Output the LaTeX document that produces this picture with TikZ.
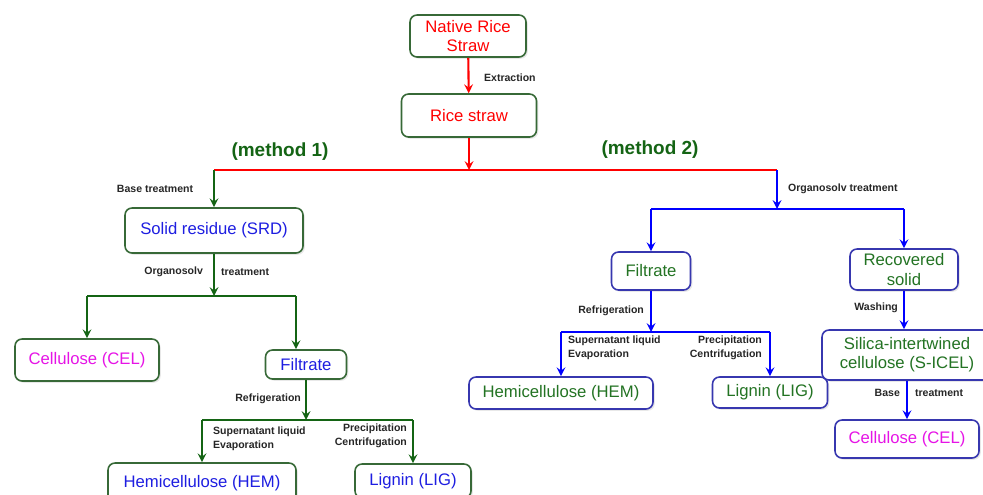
\documentclass[tikz,border=0pt]{standalone}
\usepackage{fontspec}
\setmainfont{Liberation Sans}
\usetikzlibrary{shadows}
\definecolor{boxgreen}{RGB}{55,105,55}
\definecolor{boxblue}{RGB}{55,55,175}
\definecolor{linegreen}{RGB}{20,100,20}
\definecolor{txtgreen}{RGB}{35,115,35}
\definecolor{txtblue}{RGB}{30,30,225}
\definecolor{txtpink}{RGB}{230,20,230}
\tikzset{
  greenbox/.style={draw=boxgreen, line width=0.9pt, rounded corners=4pt, fill=white, align=center, inner sep=1pt,
    font=\fontsize{9.5}{11}\selectfont, drop shadow={opacity=0.18, shadow xshift=1pt, shadow yshift=-1pt}},
  bluebox/.style={greenbox, draw=boxblue},
  boxsize/.style 2 args={minimum width=#1*0.02cm, minimum height=#2*0.02cm},
  lbl/.style={font=\fontsize{6}{8}\selectfont\bfseries, text=black!85, inner sep=1pt, align=left},
  redline/.style={draw=red, line width=1.2pt},
  greenline/.style={draw=linegreen, line width=1.2pt},
  blueline/.style={draw=blue, line width=1.2pt},
  redarr/.style={redline, ->, >=stealth},
  greenarr/.style={greenline, ->, >=stealth},
  bluearr/.style={blueline, ->, >=stealth},
  method/.style={font=\fontsize{10.8}{12}\selectfont\bfseries, text=linegreen}
}
\begin{document}
\begin{tikzpicture}[x=0.02cm, y=-0.02cm]
\useasboundingbox (0,0) rectangle (983,494);
% top
\node[greenbox, boxsize={116}{42}, text=red] (native) at (468,36) {Native Rice\\Straw};
\node[greenbox, boxsize={135}{43}, text=red] (rice) at (469,115.5) {Rice straw};
\draw[redarr] (native) -- (rice);
\node[lbl, anchor=west] (extr) at (482,78) {Extraction};
\coordinate (m1) at (214,170);
\coordinate (m2) at (777,170);
\draw[redarr] (rice) -- (rice |- m1);
\draw[redline] (m1) -- (m2);
\node[method] (meth1) at (280,152) {(method 1)};
\node[method] (meth2) at (650,150) {(method 2)};

% method 1
\node[greenbox, boxsize={178}{45}, text=txtblue] (srd) at (214,230.5) {Solid residue (SRD)};
\node[greenbox, boxsize={144}{42}, text=txtpink] (cel1) at (87,360) {Cellulose (CEL)};
\node[greenbox, boxsize={81}{29}, text=txtblue] (filt1) at (306,364.5) {Filtrate};
\node[greenbox, boxsize={188}{40}, text=txtblue] (hem1) at (202,483) {Hemicellulose (HEM)};
\node[greenbox, boxsize={116}{34}, text=txtblue] (lig1) at (413,481) {Lignin (LIG)};
\draw[greenarr] (m1) -- (srd);
\node[lbl] (base1) at (155,189) {Base treatment};
\coordinate (s1) at (214,296);
\coordinate (s1r) at (296,296);
\draw[greenarr] (srd) -- (s1);
\node[lbl, anchor=east] (org1) at (205,272) {Organosolv};
\node[lbl, anchor=west] (treat1) at (219,272) {treatment};
\draw[greenline] (cel1 |- s1) -- (s1r);
\draw[greenarr] (cel1 |- s1) -- (cel1);
\draw[greenarr] (s1r) -- (s1r |- filt1.north);
\coordinate (s3) at (306,420);
\draw[greenarr] (filt1) -- (s3);
\node[lbl, anchor=east] (refr1) at (303,399) {Refrigeration};
\draw[greenline] (hem1 |- s3) -- (lig1 |- s3);
\draw[greenarr] (hem1 |- s3) -- (hem1);
\draw[greenarr] (lig1 |- s3) -- (lig1);
\node[lbl, anchor=west] (sup1) at (211,439) {Supernatant liquid\\Evaporation};
\node[lbl, anchor=east, align=right] (prec1) at (409,436) {Precipitation\\Centrifugation};

% method 2
\node[bluebox, boxsize={79}{38}, text=txtgreen] (filt2) at (651,271) {Filtrate};
\node[bluebox, boxsize={108}{41}, text=txtgreen] (rec) at (904,269.5) {Recovered\\solid};
\node[bluebox, boxsize={184}{32}, text=txtgreen] (hem2) at (561,393) {Hemicellulose (HEM)};
\node[bluebox, boxsize={115}{31}, text=txtgreen] (lig2) at (770,392.5) {Lignin (LIG)};
\node[bluebox, boxsize={170}{50}, text=txtgreen] (sicel) at (907,355) {Silica-intertwined\\cellulose (S-ICEL)};
\node[bluebox, boxsize={144}{38}, text=txtpink] (cel2) at (907,439) {Cellulose (CEL)};
\coordinate (s2) at (777,209);
\draw[bluearr] (m2) -- (s2);
\node[lbl, anchor=west] (org2) at (786,189) {Organosolv treatment};
\draw[blueline] (filt2 |- s2) -- (rec |- s2);
\draw[bluearr] (filt2 |- s2) -- (filt2);
\draw[bluearr] (rec |- s2) -- (rec);
\coordinate (s4) at (651,332);
\draw[bluearr] (filt2) -- (s4);
\node[lbl, anchor=east] (refr2) at (646,311) {Refrigeration};
\draw[blueline] (hem2 |- s4) -- (lig2 |- s4);
\draw[bluearr] (hem2 |- s4) -- (hem2);
\draw[bluearr] (lig2 |- s4) -- (lig2);
\node[lbl, anchor=west] (sup2) at (566,348) {Supernatant liquid\\Evaporation};
\node[lbl, anchor=east, align=right] (prec2) at (764,348) {Precipitation\\Centrifugation};
\draw[bluearr] (rec) -- (rec |- sicel.north);
\node[lbl, anchor=east] (wash) at (900,308) {Washing};
\draw[bluearr] (sicel) -- (cel2);
\node[lbl, anchor=east] (base2) at (902,393) {Base};
\node[lbl, anchor=west] (treat2) at (913,393) {treatment};
\end{tikzpicture}
\end{document}
